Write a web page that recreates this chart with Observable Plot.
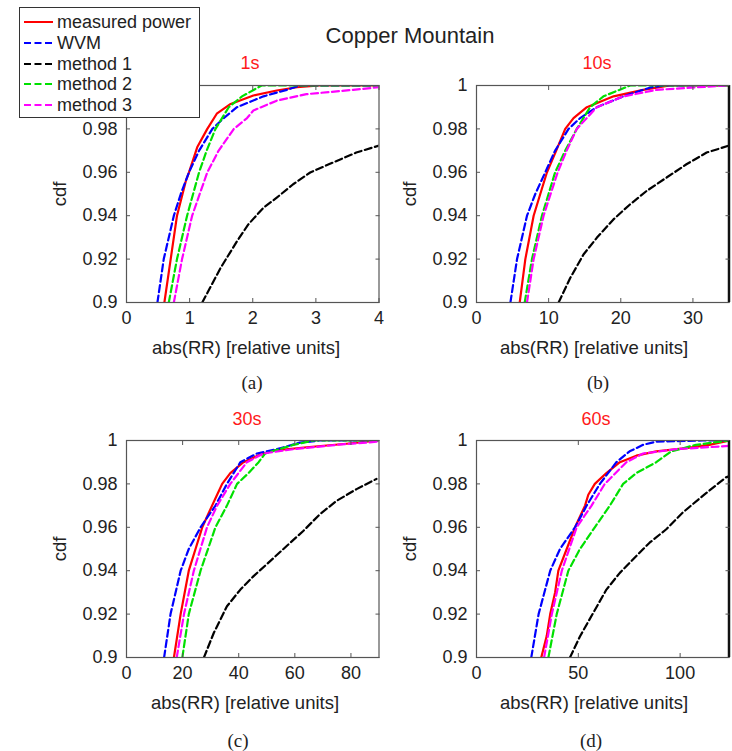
<!DOCTYPE html>
<html><head><meta charset="utf-8">
<script src="https://cdn.jsdelivr.net/npm/d3@7"></script>
<script src="https://cdn.jsdelivr.net/npm/@observablehq/plot@0.6"></script>
<style>
body{margin:0;background:#fff;}
#fig{position:relative;width:732px;height:751px;font-family:Arial,"Liberation Sans",sans-serif;color:#222;overflow:hidden;}
#fig svg.pl{position:absolute;overflow:visible;}
.t{position:absolute;white-space:nowrap;line-height:1;transform:translate(-50%,-50%);}
.cap{font-family:"Times New Roman","Liberation Serif",serif;font-size:19px;}
.ttl{color:#ff1a1a;font-size:18px;}
.xl{font-size:18.5px;}
.yl{font-size:18.5px;transform:translate(-50%,-50%) rotate(-90deg);}
#legend{position:absolute;left:19px;top:7px;width:179px;height:109px;border:1px solid #333;background:#fff;z-index:5;}
#legend .row{position:absolute;left:3px;height:20px;display:flex;align-items:center;font-size:18px;line-height:1;}
#legend svg{margin-right:4px;}
</style></head><body><div id="fig"></div>
<script>
// ---- data : [abs(RR), cdf] ----
const seriesNames = ["measured power", "WVM", "method 1", "method 2", "method 3"];
const seriesColors = ["#ff0000", "#0000ff", "#000000", "#00e000", "#ff00ff"];
const seriesDash = [null, "7,3.5", "7,3.5", "7,3.5", "7,3.5"];

const yTicks = [0.9, 0.92, 0.94, 0.96, 0.98, 1];

// panel (a) 1s
const A_title = "1s";
const A_xDomain = [0, 4];
const A_xTicks = [0, 1, 2, 3, 4];
const A_measured = [[0.60,0.90],[0.70,0.92],[0.80,0.94],[0.94,0.956],[0.99,0.96],[1.12,0.9715],[1.28,0.98],[1.43,0.987],[1.65,0.9915],[2.01,0.9954],[2.38,0.9977],[2.70,0.9992],[3.06,1.0],[4.0,1.0]];
const A_wvm = [[0.49,0.90],[0.59,0.92],[0.75,0.94],[0.86,0.95],[0.99,0.96],[1.15,0.97],[1.36,0.98],[1.54,0.985],[1.75,0.99],[2.17,0.995],[2.54,0.998],[2.75,1.0],[4.0,1.0]];
const A_m1 = [[1.20,0.90],[1.49,0.9159],[1.75,0.9282],[1.93,0.936],[2.17,0.9437],[2.38,0.9483],[2.64,0.9545],[2.91,0.9599],[3.27,0.9645],[3.64,0.9691],[4.0,0.9723]];
const A_m2 = [[0.67,0.90],[0.80,0.92],[0.96,0.94],[1.15,0.96],[1.27,0.97],[1.41,0.98],[1.62,0.99],[1.83,0.995],[2.14,1.0],[4.0,1.0]];
const A_m3 = [[0.75,0.90],[0.88,0.92],[1.04,0.94],[1.28,0.96],[1.46,0.97],[1.70,0.98],[1.91,0.985],[2.01,0.9885],[2.38,0.993],[2.85,0.996],[3.59,0.998],[4.0,0.9992]];

// panel (b) 10s
const B_title = "10s";
const B_xDomain = [0, 35];
const B_xTicks = [0, 10, 20, 30];
const B_measured = [[5.99,0.90],[6.77,0.92],[7.92,0.94],[8.84,0.95],[9.77,0.96],[11.05,0.97],[12.3,0.98],[13.45,0.985],[15.3,0.99],[19.0,0.995],[23.1,0.998],[26.8,1.0],[35,1.0]];
const B_wvm = [[4.70,0.90],[5.62,0.92],[7.0,0.94],[8.15,0.95],[9.53,0.96],[10.9,0.97],[12.76,0.98],[14.37,0.985],[16.67,0.99],[20.36,0.995],[24.0,0.999],[25.9,1.0],[35,1.0]];
const B_m1 = [[11.38,0.90],[12.99,0.9113],[14.83,0.9221],[16.67,0.9298],[18.98,0.9383],[21.28,0.9452],[23.58,0.9514],[26.35,0.9576],[29.1,0.9637],[31.9,0.9691],[35,0.9723]];
const B_m2 = [[6.68,0.90],[7.69,0.92],[9.07,0.94],[10.9,0.96],[12.3,0.97],[13.9,0.98],[15.75,0.99],[17.6,0.995],[21.3,1.0],[35,1.0]];
const B_m3 = [[7.0,0.90],[7.92,0.92],[9.3,0.94],[11.25,0.96],[12.5,0.97],[13.9,0.98],[16.67,0.99],[20.4,0.995],[25.0,0.998],[34.6,1.0],[35,1.0]];

// panel (c) 30s
const C_title = "30s";
const C_xDomain = [0, 90];
const C_xTicks = [0, 20, 40, 60, 80];
const C_measured = [[16.9,0.90],[18.1,0.91],[19.3,0.92],[22.2,0.94],[24.6,0.95],[27.0,0.96],[30.5,0.97],[32.3,0.975],[34.1,0.98],[37.0,0.985],[41.7,0.99],[47.7,0.9935],[52.4,0.9954],[64.2,0.9969],[78.4,0.9985],[90,1.0]];
const C_wvm = [[13.4,0.90],[15.7,0.92],[19.3,0.94],[22.2,0.95],[26.4,0.96],[31.7,0.97],[35.8,0.98],[40.6,0.99],[46.5,0.994],[53.6,0.996],[61.8,0.999],[68.9,1.0],[90,1.0]];
const C_m1 = [[27.6,0.90],[31.1,0.9113],[35.8,0.9236],[40.6,0.9313],[45.3,0.9375],[51.2,0.9444],[57.1,0.9514],[63.0,0.9583],[68.9,0.966],[74.9,0.9722],[82.0,0.9776],[89.1,0.9823]];
const C_m2 = [[19.9,0.90],[22.2,0.92],[26.4,0.94],[31.7,0.96],[35.8,0.97],[39.4,0.98],[43.5,0.985],[47.1,0.99],[49.4,0.994],[59.5,0.998],[66.6,1.0],[90,1.0]];
const C_m3 = [[17.9,0.90],[20.5,0.92],[24.0,0.94],[28.7,0.96],[32.3,0.97],[37.0,0.98],[42.9,0.99],[48.8,0.994],[59.5,0.996],[74.9,0.998],[90,0.9995]];

// panel (d) 60s
const D_title = "60s";
const D_xDomain = [0, 124];
const D_xTicks = [0, 50, 100];
const D_measured = [[31.8,0.90],[34.5,0.91],[36.2,0.92],[38.6,0.93],[40.2,0.94],[44.3,0.95],[48.4,0.96],[53.3,0.97],[54.9,0.975],[58.1,0.98],[63.8,0.985],[70.4,0.99],[78.5,0.993],[88.3,0.995],[102.9,0.9965],[114.3,0.998],[124,1.0]];
const D_wvm = [[26.9,0.90],[30.5,0.92],[36.2,0.94],[41.0,0.95],[48.4,0.96],[54.1,0.97],[60.6,0.98],[68.7,0.99],[75.2,0.995],[81.8,0.998],[88.3,0.9995],[111,1.0],[124,1.0]];
const D_m1 = [[45.9,0.90],[50.8,0.9097],[57.3,0.9205],[63.8,0.9313],[70.4,0.939],[78.5,0.9468],[85.0,0.9529],[93.2,0.9591],[101.3,0.9668],[111.1,0.9745],[122.5,0.983],[124,0.9835]];
const D_m2 = [[35.3,0.90],[39.4,0.92],[45.1,0.94],[50.8,0.95],[58.1,0.96],[65.5,0.97],[72.0,0.98],[78.5,0.985],[88.3,0.99],[95.6,0.995],[107.8,0.998],[124,1.0]];
const D_m3 = [[33.2,0.90],[37.0,0.92],[41.9,0.94],[49.2,0.96],[56.5,0.97],[63.0,0.98],[73.6,0.99],[81.8,0.994],[98.0,0.996],[124,0.9975]];

const mainTitle = "Copper Mountain";
const xLabel = "abs(RR) [relative units]";
const yLabel = "cdf";

// ---- layout ----
const fig = document.getElementById("fig");
const FONT = "Arial, 'Liberation Sans', sans-serif";

const panels = [
  {id:"(a)", title:A_title, xDomain:A_xDomain, xTicks:A_xTicks, series:[A_measured,A_wvm,A_m1,A_m2,A_m3], hideTop:true, rightEdge:false,
   left:0, top:0, width:390, height:375, mL:126, mR:11.5, mT:85, mB:73, tx:250, ty:62.5, xlx:246, xly:348, cx:252, cy:382, ylx:60},
  {id:"(b)", title:B_title, xDomain:B_xDomain, xTicks:B_xTicks, series:[B_measured,B_wvm,B_m1,B_m2,B_m3], hideTop:false, rightEdge:true,
   left:390, top:0, width:342, height:375, mL:86, mR:3.5, mT:85, mB:73, tx:597, ty:62.5, xlx:594, xly:348, cx:598, cy:382, ylx:410},
  {id:"(c)", title:C_title, xDomain:C_xDomain, xTicks:C_xTicks, series:[C_measured,C_wvm,C_m1,C_m2,C_m3], hideTop:false, rightEdge:false,
   left:0, top:375, width:390, height:376, mL:126, mR:11.5, mT:65, mB:94, tx:247, ty:418.5, xlx:245, xly:703, cx:238, cy:740, ylx:60},
  {id:"(d)", title:D_title, xDomain:D_xDomain, xTicks:D_xTicks, series:[D_measured,D_wvm,D_m1,D_m2,D_m3], hideTop:false, rightEdge:true,
   left:390, top:375, width:342, height:376, mL:86, mR:3.5, mT:65, mB:94, tx:596, ty:418.5, xlx:594, xly:703, cx:591, cy:740, ylx:410}
];

function addText(txt, x, y, cls, extra) {
  const el = document.createElement("div");
  el.className = "t " + (cls || "");
  el.textContent = txt;
  el.style.left = x + "px";
  el.style.top = y + "px";
  if (extra) Object.assign(el.style, extra);
  fig.appendChild(el);
  return el;
}

for (const p of panels) {
  // in panel (a) the legend box hides the "1" tick label, as in the reference
  const yFmt = d => (p.hideTop && d === 1) ? "" : String(+d.toFixed(2));
  const lineMarks = p.series.map((arr, i) => Plot.line(arr, {
    x: d => d[0], y: d => d[1],
    stroke: seriesColors[i], strokeWidth: 2.2,
    strokeDasharray: seriesDash[i] || undefined,
    strokeLinejoin: "round", clip: true
  }));
  const extra = p.rightEdge ? [Plot.ruleX([p.xDomain[1]], {stroke: "#111", strokeWidth: 2.5})] : [];
  const svg = Plot.plot({
    width: p.width, height: p.height,
    marginLeft: p.mL, marginRight: p.mR, marginTop: p.mT, marginBottom: p.mB,
    style: {fontFamily: FONT, fontSize: "18px", color: "#222", background: "transparent", overflow: "visible"},
    x: {domain: p.xDomain, label: null},
    y: {domain: [0.9, 1], label: null},
    marks: [
      ...lineMarks,
      Plot.frame({stroke: "#555", strokeWidth: 1.2}),
      ...extra,
      Plot.axisX({ticks: p.xTicks, anchor: "bottom", tickSize: -4, tickPadding: 13, tickFormat: d => String(d), label: null, stroke: "#555"}),
      Plot.axisX({ticks: p.xTicks, anchor: "top", tickSize: -4, tickFormat: () => "", label: null, stroke: "#555"}),
      Plot.axisY({ticks: yTicks, anchor: "left", tickSize: -4, tickPadding: 13, tickFormat: yFmt, label: null, stroke: "#555"}),
      Plot.axisY({ticks: yTicks, anchor: "right", tickSize: -4, tickFormat: () => "", label: null, stroke: "#555"})
    ]
  });
  svg.classList.add("pl");
  svg.style.left = p.left + "px";
  svg.style.top = p.top + "px";
  fig.appendChild(svg);

  addText(p.title, p.tx, p.ty, "ttl");
  addText(xLabel, p.xlx, p.xly, "xl");
  addText(yLabel, p.ylx, p.top + p.mT + (p.height - p.mT - p.mB) / 2, "yl");
  addText(p.id, p.cx, p.cy, "cap");
}

addText(mainTitle, 410, 36, "", {fontSize: "22px"});

// legend
const legend = document.createElement("div");
legend.id = "legend";
const rowCenters = [14, 35, 56, 76, 97];
seriesNames.forEach((name, i) => {
  const row = document.createElement("div");
  row.className = "row";
  row.style.top = (rowCenters[i] - 10) + "px";
  const s = d3.create("svg").attr("width", 30).attr("height", 20);
  s.append("line").attr("x1", 1).attr("x2", 30).attr("y1", 10).attr("y2", 10)
    .attr("stroke", seriesColors[i]).attr("stroke-width", 2)
    .attr("stroke-dasharray", seriesDash[i]);
  row.appendChild(s.node());
  const span = document.createElement("span");
  span.textContent = name;
  row.appendChild(span);
  legend.appendChild(row);
});
fig.appendChild(legend);
</script>
</body></html>
